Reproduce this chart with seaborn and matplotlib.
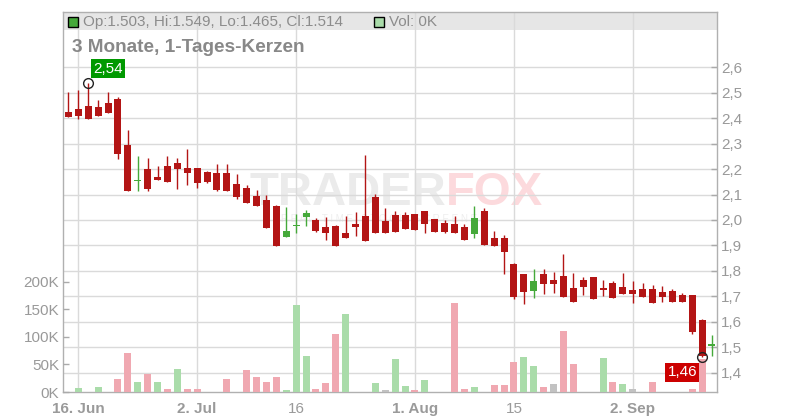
import pandas as pd
import numpy as np
import matplotlib
matplotlib.use("Agg")
import matplotlib.pyplot as plt
import seaborn as sns
from matplotlib.patches import Rectangle

# trading days 13 Jun - 12 Sep 2025
dates = pd.bdate_range("2025-06-13", "2025-09-12")

opens = [2.423, 2.434, 2.446, 2.442, 2.458, 2.474, 2.293, 2.154, 2.199, 2.168,
         2.211, 2.224, 2.203, 2.203, 2.187, 2.183, 2.183, 2.140, 2.124, 2.093,
         2.077, 2.054, 1.933, 1.975, 2.012, 1.999, 1.972, 1.975, 1.948, 1.983,
         2.015, 2.089, 1.995, 2.019, 2.019, 2.023, 2.034, 2.003, 1.987, 1.983,
         1.972, 1.945, 2.034, 1.928, 1.928, 1.826, 1.787, 1.722, 1.787, 1.764,
         1.779, 1.732, 1.764, 1.775, 1.732, 1.752, 1.736, 1.724, 1.728, 1.728,
         1.717, 1.720, 1.705, 1.705, 1.606, 1.503]
highs = [2.502, 2.509, 2.539, 2.470, 2.501, 2.483, 2.352, 2.250, 2.242, 2.211,
         2.250, 2.245, 2.278, 2.203, 2.191, 2.219, 2.219, 2.180, 2.136, 2.117,
         2.097, 2.058, 2.049, 2.025, 2.041, 2.006, 2.011, 1.979, 2.015, 2.030,
         2.254, 2.101, 2.046, 2.034, 2.030, 2.023, 2.034, 2.003, 1.999, 2.015,
         1.983, 2.054, 2.046, 1.956, 1.940, 1.830, 1.787, 1.807, 1.807, 1.795,
         1.866, 1.791, 1.775, 1.775, 1.764, 1.760, 1.791, 1.760, 1.752, 1.744,
         1.740, 1.728, 1.714, 1.705, 1.610, 1.549]
lows = [2.403, 2.396, 2.396, 2.408, 2.419, 2.238, 2.114, 2.114, 2.114, 2.157,
        2.149, 2.122, 2.137, 2.127, 2.145, 2.113, 2.113, 2.083, 2.067, 2.055,
        1.969, 1.898, 1.933, 1.949, 1.977, 1.953, 1.921, 1.898, 1.930, 1.937,
        1.918, 1.949, 1.949, 1.951, 1.965, 1.961, 1.949, 1.953, 1.949, 1.949,
        1.922, 1.930, 1.902, 1.898, 1.788, 1.690, 1.671, 1.694, 1.710, 1.714,
        1.698, 1.678, 1.706, 1.690, 1.702, 1.694, 1.710, 1.675, 1.698, 1.675,
        1.679, 1.679, 1.679, 1.553, 1.460, 1.465]
closes = [2.403, 2.407, 2.396, 2.408, 2.419, 2.259, 2.114, 2.158, 2.122, 2.157,
          2.149, 2.200, 2.185, 2.145, 2.149, 2.117, 2.113, 2.090, 2.067, 2.055,
          1.969, 1.898, 1.957, 1.980, 2.026, 1.957, 1.949, 1.898, 1.930, 1.972,
          1.918, 1.949, 1.949, 1.951, 1.965, 1.961, 1.984, 1.953, 1.953, 1.949,
          1.922, 2.007, 1.902, 1.898, 1.875, 1.697, 1.718, 1.760, 1.749, 1.749,
          1.698, 1.678, 1.737, 1.690, 1.725, 1.694, 1.710, 1.710, 1.698, 1.675,
          1.698, 1.679, 1.679, 1.561, 1.465, 1.514]
volumes = [0, 6700, 0, 9000, 0, 23000, 70000, 19000, 32000, 17500,
           5000, 41000, 5000, 5000, 0, 0, 23000, 0, 39000, 28000,
           19000, 28000, 3000, 158000, 66000, 5000, 16000, 106000, 142000, 0,
           0, 16000, 3000, 59000, 10000, 3000, 21000, 0, 0, 162000,
           5000, 8500, 0, 12000, 12000, 53500, 64000, 48000, 8500, 14000,
           111000, 50000, 0, 0, 61000, 19000, 14000, 5000, 0, 17500,
           0, 0, 0, 5000, 60000, 0]

tick_dates = ["2025-06-16", "2025-07-02", "2025-07-16", "2025-08-01", "2025-08-15", "2025-09-02"]
tick_labels = ["16. Jun", "2. Jul", "16", "1. Aug", "15", "2. Sep"]
tick_bold = [True, True, False, True, False, True]
price_ticks = [1.4, 1.5, 1.6, 1.7, 1.8, 1.9, 2.0, 2.1, 2.2, 2.3, 2.4, 2.5, 2.6]
vol_ticks = [0, 50000, 100000, 150000, 200000]

RED = "#b31515"
GREEN = "#45a93a"
vol_pal = {"up": "#aadcaa", "down": "#f0a8b1", "flat": "#c2c2c2"}

df = pd.DataFrame({"date": dates, "open": opens, "high": highs, "low": lows,
                   "close": closes, "volume": volumes})
df["idx"] = np.arange(len(df))
prev = df["close"].shift(1).fillna(df["open"])
df["dir"] = np.where(df["close"] > prev, "up", np.where(df["close"] < prev, "down", "flat"))
df["col"] = np.where(df["close"] >= df["open"], GREEN, RED)

sns.set_style("white")
plt.rcParams["font.family"] = ["Liberation Sans", "DejaVu Sans"]

W, H = 800, 420
fig = plt.figure(figsize=(8, 4.2), dpi=100)
L, R, T, B = 63.3, 716.7, 11.5, 392
ax_g = fig.add_axes([L / W, 1 - B / H, (R - L) / W, (B - T) / H])
ax_v = ax_g.twinx()
ax_c = ax_g.twinx()

pmin, pmax = 1.3242, 2.8189
xlim = (-0.52, 65.48)

# grid / price axis
ax_g.set_xlim(*xlim)
ax_g.set_ylim(pmin, pmax)
ax_g.set_axisbelow(True)
ax_g.grid(True, color="#dadada", lw=1)
ax_g.yaxis.tick_right()
ax_g.set_yticks(price_ticks)
ax_g.set_yticklabels([f"{p:.1f}".replace(".", ",") for p in price_ticks])
ax_g.tick_params(axis="y", direction="in", length=4, width=1, color="#aaaaaa",
                 labelcolor="#999999", labelsize=11, pad=3,
                 right=True, left=False, labelright=True, labelleft=False)
tick_pos = [dates.get_loc(pd.Timestamp(d)) for d in tick_dates]
ax_g.set_xticks(tick_pos)
ax_g.set_xticklabels(tick_labels)
for lab, b in zip(ax_g.get_xticklabels(), tick_bold):
    lab.set_fontweight("bold" if b else "normal")
ax_g.tick_params(axis="x", direction="out", length=3, width=1, color="#aaaaaa",
                 labelcolor="#9a9a9a", labelsize=11, pad=4)
for s in ax_g.spines.values():
    s.set_color("#b0b0b0")
    s.set_linewidth(1)
ax_g.add_patch(Rectangle((0, 1 - 18 / (B - T)), 1, 18 / (B - T), transform=ax_g.transAxes,
                         facecolor="#e6e6e6", edgecolor="none", zorder=0.1))

# watermark
ax_g.text(0.586, 0.524, "TRADER", transform=ax_g.transAxes, ha="right", va="center",
          fontsize=34, fontweight="bold", color="#ebebeb", zorder=0.2)
ax_g.text(0.586, 0.524, "FOX", transform=ax_g.transAxes, ha="left", va="center",
          fontsize=34, fontweight="bold", color="#fcdadd", zorder=0.2)
ax_g.text(0.49, 0.455, "R E A L - T I M E   S T O C K   S C R E E N E R",
          transform=ax_g.transAxes, ha="center", va="center",
          fontsize=7, color="#eeeeee", zorder=0.2)

# volume
sns.barplot(data=df, x="idx", y="volume", hue="dir", palette=vol_pal, native_scale=True,
            width=0.7, dodge=False, errorbar=None, saturation=1, linewidth=0,
            legend=False, ax=ax_v)
ax_v.set_xlim(*xlim)
ax_v.set_ylim(0, 690000)
ax_v.yaxis.tick_left()
ax_v.set_yticks(vol_ticks)
ax_v.set_yticklabels([f"{v // 1000}K" for v in vol_ticks])
ax_v.tick_params(axis="y", direction="in", length=4, width=1, color="#aaaaaa",
                 labelcolor="#999999", labelsize=11, pad=3,
                 left=True, right=False, labelleft=True, labelright=False)
ax_v.set_xlabel("")
ax_v.set_ylabel("")
for s in ax_v.spines.values():
    s.set_visible(False)

# candles
ax_c.set_xlim(*xlim)
ax_c.set_ylim(pmin, pmax)
ax_c.yaxis.set_visible(False)
for s in ax_c.spines.values():
    s.set_visible(False)
ax_c.vlines(df["idx"], df["low"], df["high"], colors=df["col"], lw=1, zorder=1)
body_lo = np.minimum(df["open"], df["close"])
body_h = np.maximum(np.abs(df["close"] - df["open"]), 0.004)
ax_c.bar(df["idx"], body_h, bottom=body_lo, width=0.7, color=df["col"], lw=0, zorder=2)

ih = int(df["high"].idxmax())
il = int(df["low"].idxmin())
ax_c.plot(ih, df["high"][ih], "o", ms=7, mfc="none", mec="#222222", mew=1, zorder=4)
ax_c.plot(il, df["low"][il], "o", ms=7, mfc="none", mec="#222222", mew=1, zorder=4)
ax_c.annotate(f"{df['high'][ih]:.2f}".replace(".", ","), xy=(ih, df["high"][ih]),
              xytext=(5, 7), textcoords="offset pixels", ha="left", va="bottom",
              color="white", fontsize=11, zorder=5,
              bbox=dict(boxstyle="square,pad=0.15", fc="#009900", ec="none"))
ax_c.annotate(f"{df['low'][il]:.2f}".replace(".", ","), xy=(il, df["low"][il]),
              xytext=(-5, -8), textcoords="offset pixels", ha="right", va="top",
              color="white", fontsize=11, zorder=5,
              bbox=dict(boxstyle="square,pad=0.15", fc="#cc0000", ec="none"))

# header: legend band and subtitle
last = df.iloc[-1]
fig.add_artist(Rectangle((68.3 / W, 1 - 26.7 / H), 10 / W, 10 / H, transform=fig.transFigure,
                         facecolor=GREEN, edgecolor="black", lw=1))
fig.text(83 / W, 1 - 21.7 / H,
         f"Op:{last['open']:.3f}, Hi:{last['high']:.3f}, Lo:{last['low']:.3f}, Cl:{last['close']:.3f}",
         ha="left", va="center", fontsize=11, color="#8c8c8c")
fig.add_artist(Rectangle((374.3 / W, 1 - 26.7 / H), 10 / W, 10 / H, transform=fig.transFigure,
                         facecolor=vol_pal["up"], edgecolor="black", lw=1))
fig.text(389 / W, 1 - 21.7 / H, f"Vol: {int(last['volume']) // 1000}K",
         ha="left", va="center", fontsize=11, color="#8c8c8c")
fig.text(72 / W, 1 - 47.5 / H, "3 Monate, 1-Tages-Kerzen", ha="left", va="center",
         fontsize=13.7, fontweight="bold", color="#888888")

fig.savefig("out.png", dpi=100)
